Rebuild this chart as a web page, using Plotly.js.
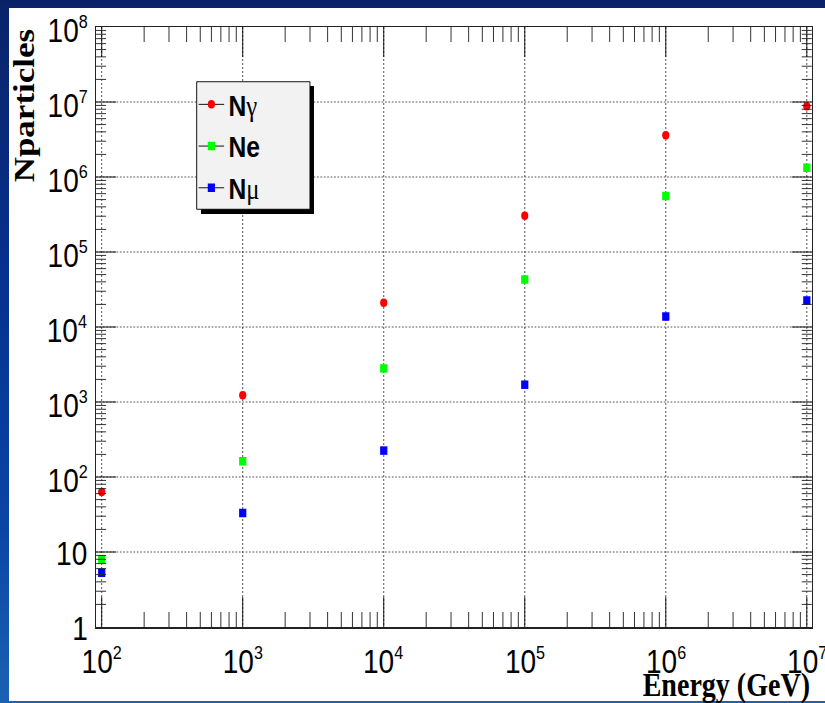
<!DOCTYPE html>
<html>
<head>
<meta charset="utf-8">
<script src="https://cdn.plot.ly/plotly-3.0.1.min.js"></script>
<style>
  html, body { margin:0; padding:0; width:825px; height:703px; overflow:hidden; }
  body { background: linear-gradient(to bottom, #0a2368 0%, #06318f 40%, #0a45a6 75%, #1b62b2 100%); position:relative; }
  #panel { position:absolute; left:9px; top:8px; width:816px; height:693px; background:#ffffff; }
  #plot { position:absolute; left:0; top:0; width:971px; height:703px; transform: scaleX(0.85); transform-origin: 0 0; }
</style>
</head>
<body>
<div id="panel"></div>
<div id="plot"></div>
<script>
// ---- data ----
const energyGeV = [1e2, 1e3, 1e4, 1e5, 1e6, 1e7];
const nGamma    = [63, 1230, 21000, 305000, 3.6e6, 8.8e6];
const nElectron = [8, 162, 2800, 43000, 5.6e5, 1.33e6];
const nMuon     = [5.3, 33, 225, 1700, 13800, 22600];
const seriesNames = [
  'N<span style="font-family:Liberation Serif;font-weight:normal">\u03b3</span>',
  'Ne',
  'N<span style="font-family:Liberation Serif;font-weight:normal">\u03bc</span>'
];
// decade ticks (log10 exponents) and their labels
const xTickExps = [2, 3, 4, 5, 6, 7];
const yTickExps = [0, 1, 2, 3, 4, 5, 6, 7, 8];
const xTitle = 'Energy (GeV)';
const yTitle = 'Nparticles';

function decadeLabel(e) {
  if (e === 0) return '1';
  if (e === 1) return '10';
  return '10<sup><span style="font-size:19px">' + e + '</span></sup>';
}
const xTickLabels = xTickExps.map(decadeLabel);
const yTickLabels = yTickExps.map(decadeLabel);

// interleave nulls so the black legend line appears but no connecting lines are drawn
function gapped(arr) {
  const out = [];
  arr.forEach((v, i) => { out.push(v); if (i < arr.length - 1) out.push(null); });
  return out;
}

const sans = '"Liberation Sans", Arial, Helvetica, sans-serif';
const serif = '"Liberation Serif", "Times New Roman", serif';

function mk(y, name, color, symbol, size, grp) {
  return {
    x: gapped(energyGeV), y: gapped(y), name: name,
    type: 'scatter', mode: 'lines+markers', connectgaps: false,
    legendgroup: grp,
    line: { color: '#000000', width: 1 },
    marker: { color: color, symbol: symbol, size: size }
  };
}

const traces = [
  mk(nGamma, seriesNames[0], '#ff0000', 'circle', 8.5, 'g1'),
  mk(nElectron, seriesNames[1], '#00ff00', 'square', 8.5, 'g2'),
  mk(nMuon, seriesNames[2], '#0000ff', 'square', 8.5, 'g3')
];

const tickFont = { family: sans, size: 33, color: '#000' };
const annotations = [
  { text: '<b>' + yTitle + '</b>', xref: 'paper', yref: 'paper', x: -0.1005, y: 0.87,
    xanchor: 'center', yanchor: 'middle', textangle: -90, showarrow: false,
    font: { family: serif, size: 35, color: '#000' } },
  { text: '<b>' + xTitle + '</b>', xref: 'paper', yref: 'paper', x: 1.0, y: -0.098,
    xanchor: 'right', yanchor: 'middle', showarrow: false,
    font: { family: serif, size: 33, color: '#000' } }
];
xTickExps.forEach((e, i) => annotations.push({
  text: xTickLabels[i], xref: 'x', yref: 'paper', x: e, y: -0.0567,
  xanchor: 'center', yanchor: 'middle', showarrow: false, font: tickFont
}));
yTickExps.forEach((e, i) => annotations.push({
  text: yTickLabels[i], xref: 'paper', yref: 'y', x: -0.0099, y: e,
  xanchor: 'right', yanchor: 'middle', yshift: e >= 2 ? -3 : -1, showarrow: false, font: tickFont
}));

const layout = {
  width: 971, height: 703,
  margin: { l: 113, r: 16, t: 27, b: 76 },
  paper_bgcolor: 'rgba(0,0,0,0)',
  plot_bgcolor: 'rgba(0,0,0,0)',
  showlegend: true,
  legend: {
    x: 0.1374, y: 0.9133, xanchor: 'left', yanchor: 'top',
    bgcolor: 'rgba(0,0,0,0)', borderwidth: 0,
    traceorder: 'grouped', tracegroupgap: 1,
    font: { family: sans, size: 29, color: '#000', weight: 'bold' }
  },
  xaxis: {
    type: 'log', range: [1.960, 7.035],
    dtick: 1, showticklabels: false,
    ticks: 'inside', ticklen: 30, tickwidth: 1, tickcolor: '#000',
    minor: { ticks: 'inside', ticklen: 15, dtick: 'D1', tickcolor: '#222', tickwidth: 1, showgrid: false },
    showline: true, linecolor: '#222', linewidth: 1.5, mirror: 'ticks',
    showgrid: true, gridcolor: '#444', gridwidth: 1, griddash: '2px,2px',
    zeroline: false
  },
  yaxis: {
    type: 'log', range: [0, 8],
    dtick: 1, showticklabels: false,
    ticks: 'inside', ticklen: 23.5, tickwidth: 1, tickcolor: '#000',
    minor: { ticks: 'inside', ticklen: 11.8, dtick: 'D1', tickcolor: '#222', tickwidth: 1, showgrid: false },
    showline: true, linecolor: '#222', linewidth: 1.5, mirror: 'ticks',
    showgrid: true, gridcolor: '#444', gridwidth: 1, griddash: '2px,2px',
    zeroline: false
  },
  shapes: [
    { type: 'rect', xref: 'paper', yref: 'paper', x0: 0.1466, x1: 0.3045, y0: 0.6883, y1: 0.9017,
      fillcolor: '#000000', line: { width: 0 }, layer: 'above' },
    { type: 'rect', xref: 'paper', yref: 'paper', x0: 0.1406, x1: 0.2989, y0: 0.6962, y1: 0.9088,
      fillcolor: '#f2f2f2', line: { color: '#000000', width: 1 }, layer: 'above' }
  ],
  annotations: annotations
};

Plotly.newPlot('plot', traces, layout, { displayModeBar: false, staticPlot: true });
</script>
</body>
</html>
